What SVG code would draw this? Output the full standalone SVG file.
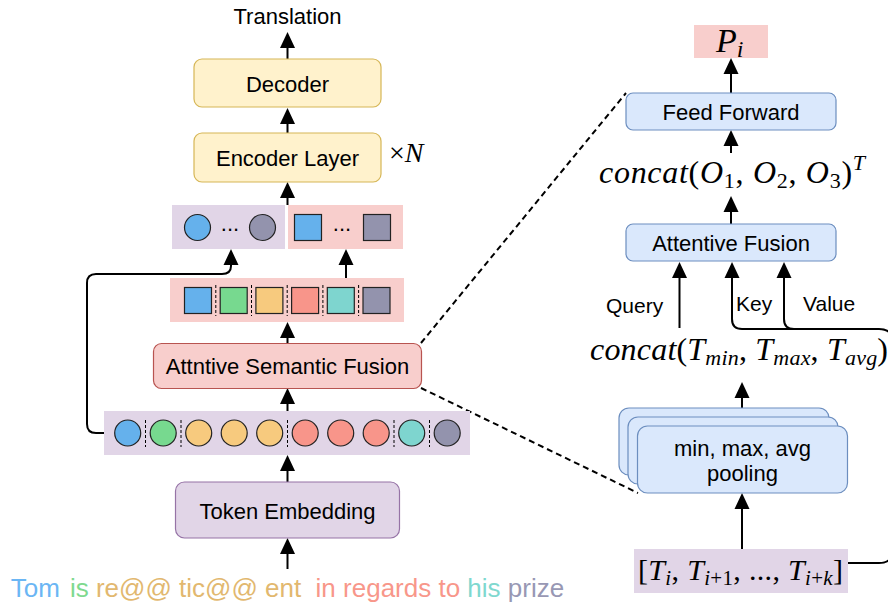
<svg xmlns="http://www.w3.org/2000/svg" width="888" height="604" viewBox="0 0 888 604">
<defs>
<marker id="ah" markerUnits="userSpaceOnUse" markerWidth="16" markerHeight="16" viewBox="0 0 16 16" refX="0" refY="8" orient="auto">
<path d="M0,0.5 L16,8 L0,15.5 z" fill="#000"/>
</marker>
</defs>
<style>
text{font-family:"Liberation Sans",Arial,sans-serif;fill:#000}
.lbl{font-size:22px;text-anchor:middle}
.sm{font-size:21px}
.math{font-family:"Liberation Serif","Times New Roman",serif}
.it{font-style:italic}
.conn{fill:none;stroke:#000;stroke-width:2}
.arr{marker-end:url(#ah)}
.dash{fill:none;stroke:#000;stroke-width:2;stroke-dasharray:6 4}
.sep{stroke:#000;stroke-width:1;stroke-dasharray:3 2}
.cell{stroke:#222;stroke-width:1.2}
.pur{fill:#e1d5e7}
.pink{fill:#f8cecc}
.yel{fill:#fff2cc;stroke:#d6b656;stroke-width:1.2}
.blu{fill:#dae8fc;stroke:#6c8ebf;stroke-width:1.2}
.c1{fill:#65b1ec}.c2{fill:#77d98f}.c3{fill:#f7ca7e}.c4{fill:#f8958a}.c5{fill:#7ed5cf}.c6{fill:#9393ad}
</style>

<g id="connectors">
<path class="conn arr" d="M287.5,59 L287.5,48"/>
<path class="conn arr" d="M287.5,133 L287.5,124"/>
<path class="conn arr" d="M287.5,205 L287.5,198"/>
<path class="conn arr" d="M104,433 L96,433 Q87,433 87,424 L87,283 Q87,274 96,274 L222,274 Q231,274 231,266 L231,265"/>
<path class="conn arr" d="M346,278 L346,265"/>
<path class="conn arr" d="M287.5,343 L287.5,338"/>
<path class="conn arr" d="M287.5,411 L287.5,404"/>
<path class="conn arr" d="M287.5,482 L287.5,471"/>
<path class="conn arr" d="M287.5,569 L287.5,554"/>
<path class="conn arr" d="M731,93 L731,74"/>
<path class="conn arr" d="M731,153 L731,146"/>
<path class="conn arr" d="M731,224 L731,212"/>
<path class="conn arr" d="M679.5,328 L679.5,278"/>
<path class="conn arr" d="M848,563 L879,563 Q893,563 893,549 L893,343 Q893,329 879,329 L742,329 Q732,329 732,319 L732,278"/>
<path class="conn arr" d="M800,329 L794,329 Q784,329 784,319 L784,278"/>
<path class="conn arr" d="M742,408 L742,398"/>
<path class="conn arr" d="M742,549 L742,509"/>
<path class="dash" d="M421,343 L626,93"/>
<path class="dash" d="M421,388 L638,493"/>
</g>

<g id="translation"><text class="lbl" x="287.5" y="24">Translation</text></g>

<g id="decoder">
<rect class="yel" x="194" y="59" width="187" height="48" rx="8"/>
<text class="lbl" x="287.5" y="91.5">Decoder</text>
</g>

<g id="encoder">
<rect class="yel" x="194" y="133" width="187" height="49" rx="8"/>
<text class="lbl" x="287.5" y="166">Encoder Layer</text>
<text class="math" x="389" y="162" font-size="28">×<tspan class="it">N</tspan></text>
</g>

<g id="token-summary">
<rect class="pur" x="172" y="205" width="113" height="44"/>
<circle class="cell c1" cx="197.5" cy="227.5" r="13"/>
<text x="230" y="231" font-size="22" text-anchor="middle">...</text>
<circle class="cell c6" cx="262.5" cy="227.5" r="13"/>
</g>

<g id="phrase-summary">
<rect class="pink" x="288" y="205" width="115" height="44"/>
<rect class="cell c1" x="294.5" y="214.5" width="27" height="26"/>
<text x="342" y="231" font-size="22" text-anchor="middle">...</text>
<rect class="cell c6" x="363.5" y="214.5" width="27" height="26"/>
</g>

<g id="phrase-row">
<rect class="pink" x="170" y="278" width="234" height="44"/>
<rect class="cell c1" x="184.5" y="287.5" width="27" height="26"/>
<rect class="cell c2" x="220.2" y="287.5" width="27" height="26"/>
<rect class="cell c3" x="255.9" y="287.5" width="27" height="26"/>
<rect class="cell c4" x="291.6" y="287.5" width="27" height="26"/>
<rect class="cell c5" x="327.3" y="287.5" width="27" height="26"/>
<rect class="cell c6" x="363.0" y="287.5" width="27" height="26"/>
<line class="sep" x1="215.8" y1="285" x2="215.8" y2="316"/>
<line class="sep" x1="251.5" y1="285" x2="251.5" y2="316"/>
<line class="sep" x1="287.2" y1="285" x2="287.2" y2="316"/>
<line class="sep" x1="322.9" y1="285" x2="322.9" y2="316"/>
<line class="sep" x1="358.6" y1="285" x2="358.6" y2="316"/>
</g>

<g id="attentive-semantic-fusion">
<rect x="153.5" y="343.5" width="268" height="45" rx="8" fill="#f8cecc" stroke="#b85450" stroke-width="1.2"/>
<text class="lbl" x="287.5" y="374">Attntive Semantic Fusion</text>
</g>

<g id="token-row">
<rect class="pur" x="104" y="411" width="366" height="44"/>
<circle class="cell c1" cx="127.7" cy="433" r="13"/>
<circle class="cell c2" cx="163.2" cy="433" r="13"/>
<circle class="cell c3" cx="198.7" cy="433" r="13"/>
<circle class="cell c3" cx="234.2" cy="433" r="13"/>
<circle class="cell c3" cx="269.7" cy="433" r="13"/>
<circle class="cell c4" cx="305.2" cy="433" r="13"/>
<circle class="cell c4" cx="340.7" cy="433" r="13"/>
<circle class="cell c4" cx="376.2" cy="433" r="13"/>
<circle class="cell c5" cx="411.7" cy="433" r="13"/>
<circle class="cell c6" cx="447.2" cy="433" r="13"/>
<line class="sep" x1="145.5" y1="420" x2="145.5" y2="447"/>
<line class="sep" x1="181" y1="420" x2="181" y2="447"/>
<line class="sep" x1="287.5" y1="420" x2="287.5" y2="447"/>
<line class="sep" x1="394" y1="420" x2="394" y2="447"/>
<line class="sep" x1="429.5" y1="420" x2="429.5" y2="447"/>
</g>

<g id="token-embedding">
<rect x="175.5" y="482" width="224" height="56" rx="9" fill="#e1d5e7" stroke="#9673a6" stroke-width="1.2"/>
<text class="lbl" x="287.5" y="518.5">Token Embedding</text>
</g>

<g id="sentence">
<text font-size="26" y="597"><tspan x="10.7" fill="#6bb6f4">Tom</tspan><tspan x="69.9" fill="#7fd98f">is</tspan><tspan x="95.9" fill="#e2b86f">re@@</tspan><tspan x="179" fill="#e2b86f">tic@@</tspan><tspan x="265" fill="#e2b86f">ent</tspan><tspan x="315.6" fill="#f8978a">in regards to</tspan><tspan x="467.3" fill="#7fd8cf">his</tspan><tspan x="507.8" fill="#9898b4">prize</tspan></text>
</g>

<g id="p-i">
<rect class="pink" x="694" y="25" width="74" height="33"/>
<text class="math it" x="716" y="51.5" font-size="34">P<tspan font-size="24" dy="5">i</tspan></text>
</g>

<g id="feed-forward">
<rect class="blu" x="626" y="93" width="210" height="37" rx="7"/>
<text class="lbl" x="731" y="119.5">Feed Forward</text>
</g>

<g id="concat-o">
<text class="math" x="599" y="183" font-size="32" textLength="266" lengthAdjust="spacing"><tspan class="it">concat</tspan>(<tspan class="it">O</tspan><tspan font-size="22" dy="5">1</tspan><tspan dy="-5">, </tspan><tspan class="it">O</tspan><tspan font-size="22" dy="5">2</tspan><tspan dy="-5">, </tspan><tspan class="it">O</tspan><tspan font-size="22" dy="5">3</tspan><tspan dy="-5">)</tspan><tspan class="it" font-size="22" dy="-13">T</tspan></text>
</g>

<g id="attentive-fusion">
<rect class="blu" x="626" y="224" width="210" height="37" rx="7"/>
<text class="lbl" x="731" y="251">Attentive Fusion</text>
</g>

<g id="qkv-labels">
<text class="sm" x="606" y="313">Query</text>
<text class="sm" x="736" y="311">Key</text>
<text class="sm" x="803" y="311">Value</text>
</g>

<g id="concat-t">
<text class="math" x="590" y="360" font-size="32" textLength="298" lengthAdjust="spacing"><tspan class="it">concat</tspan>(<tspan class="it">T</tspan><tspan class="it" font-size="22" dy="5">min</tspan><tspan dy="-5">, </tspan><tspan class="it">T</tspan><tspan class="it" font-size="22" dy="5">max</tspan><tspan dy="-5">, </tspan><tspan class="it">T</tspan><tspan class="it" font-size="22" dy="5">avg</tspan><tspan dy="-5">)</tspan></text>
</g>

<g id="pooling">
<rect class="blu" x="619" y="408" width="210" height="67" rx="10"/>
<rect class="blu" x="628" y="417" width="210" height="67" rx="10"/>
<rect class="blu" x="637.5" y="426" width="210" height="67" rx="10"/>
<text class="lbl" x="742.5" y="455.5">min, max, avg</text>
<text class="lbl" x="742.5" y="480.5">pooling</text>
</g>

<g id="t-window">
<rect class="pur" x="634" y="549" width="214" height="44"/>
<text class="math" x="638" y="580" font-size="30" textLength="205" lengthAdjust="spacing">[<tspan class="it">T</tspan><tspan class="it" font-size="21" dy="5">i</tspan><tspan dy="-5">, </tspan><tspan class="it">T</tspan><tspan class="it" font-size="21" dy="5">i</tspan><tspan font-size="21">+1</tspan><tspan dy="-5">, ..., </tspan><tspan class="it">T</tspan><tspan class="it" font-size="21" dy="5">i</tspan><tspan font-size="21">+</tspan><tspan class="it" font-size="21">k</tspan><tspan dy="-5">]</tspan></text>
</g>
</svg>
